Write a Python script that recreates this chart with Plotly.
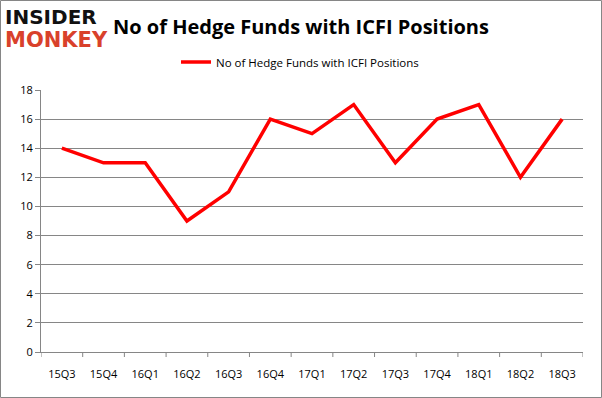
import plotly.graph_objects as go

quarters = ["15Q3","15Q4","16Q1","16Q2","16Q3","16Q4","17Q1","17Q2","17Q3","17Q4","18Q1","18Q2","18Q3"]
funds = [14,13,13,9,11,16,15,17,13,16,17,12,16]
series_name = "No of Hedge Funds with ICFI Positions"
title_text = "No of Hedge Funds with ICFI Positions"
y_ticks = [0,2,4,6,8,10,12,14,16,18]

L, R, T, B = 41, 583, 90, 352
W, H = 602, 398
pw, ph = R - L, B - T

def px(x):
    return (x - L) / pw

def py(y):
    return (B - y) / ph

fig = go.Figure()
fig.add_trace(go.Scatter(x=list(range(len(quarters))), y=funds, mode="lines",
                         name=series_name, line=dict(color="#ff0000", width=3.5)))

fig.update_layout(
    width=W, height=H,
    margin=dict(l=L, r=W - R, t=T, b=H - B, autoexpand=False),
    paper_bgcolor="white", plot_bgcolor="white",
    font=dict(family="Open Sans, DejaVu Sans, sans-serif", size=11, color="#000000"),
    showlegend=True,
    legend=dict(orientation="h", x=px(300), xanchor="center", y=py(62), yanchor="middle",
                font=dict(size=11.5), bgcolor="rgba(0,0,0,0)"),
    xaxis=dict(range=[-0.5, len(quarters)-0.5], tickmode="array",
               tickvals=list(range(len(quarters))), ticktext=quarters,
               showgrid=False, showline=True, linecolor="#868686", linewidth=1,
               ticks="", zeroline=False, ticklabelstandoff=12, automargin=False),
    yaxis=dict(range=[0, 18], tickmode="array", tickvals=y_ticks,
               showgrid=True, gridcolor="#868686", gridwidth=1,
               showline=True, linecolor="#868686", linewidth=1,
               ticks="outside", ticklen=5, tickcolor="#868686", zeroline=False,
               automargin=False),
)

# boundary tick marks on x axis
for i in range(len(quarters)+1):
    fig.add_shape(type="line", xref="x", yref="paper", x0=i-0.5, x1=i-0.5, y0=0, y1=-5/ph,
                  line=dict(color="#868686", width=1))

fig.add_annotation(text="<b>" + title_text + "</b>", xref="paper", yref="paper",
                   x=px(301), y=py(26), xanchor="center", yanchor="middle",
                   showarrow=False, font=dict(size=20, family="Open Sans, DejaVu Sans, sans-serif"))
fig.add_annotation(text="<b>INSIDER</b>", xref="paper", yref="paper",
                   x=px(3), y=py(17), xanchor="left", yanchor="middle",
                   showarrow=False, font=dict(size=20, color="#111111", family="DejaVu Sans, sans-serif"))
fig.add_annotation(text="<b>MONKEY</b>", xref="paper", yref="paper",
                   x=px(3), y=py(40), xanchor="left", yanchor="middle",
                   showarrow=False, font=dict(size=21, color="#d9412b", family="DejaVu Sans, sans-serif"))
# outer border
fig.add_shape(type="rect", xref="paper", yref="paper",
              x0=px(0.5), x1=px(601.5), y0=py(397.5), y1=py(0.5),
              line=dict(color="#868686", width=1))

fig.write_html("out.html", config={"displayModeBar": False},
               post_script="document.body.style.margin='0';document.body.style.padding='0';document.body.style.overflow='hidden';")
